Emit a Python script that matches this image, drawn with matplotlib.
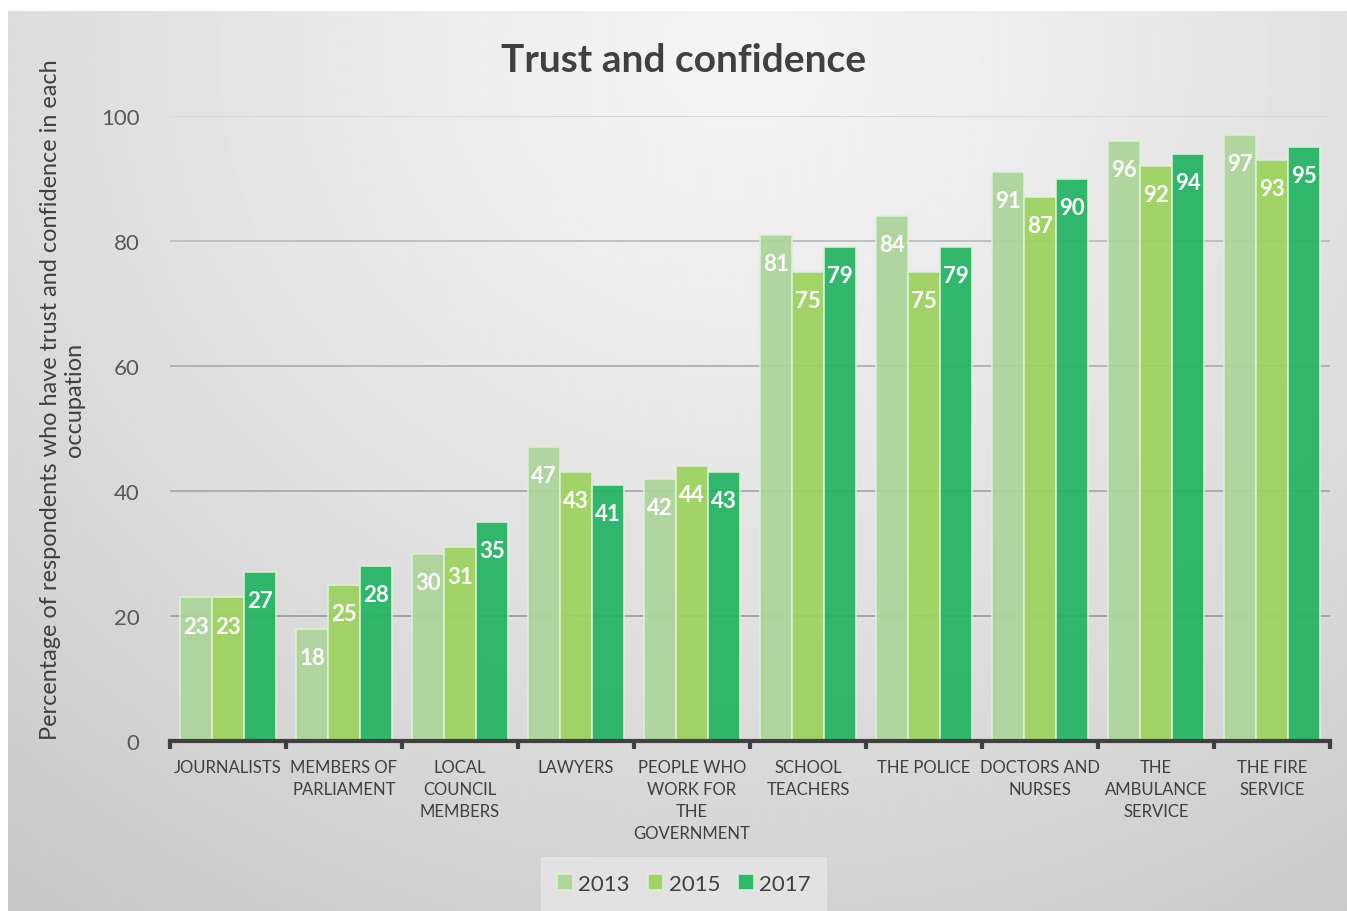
import numpy as np
import matplotlib.pyplot as plt

plt.rcParams['font.family'] = ['Lato', 'DejaVu Sans']

categories = ['JOURNALISTS', 'MEMBERS OF\nPARLIAMENT', 'LOCAL\nCOUNCIL\nMEMBERS', 'LAWYERS',
              'PEOPLE WHO\nWORK FOR\nTHE\nGOVERNMENT', 'SCHOOL\nTEACHERS', 'THE POLICE',
              'DOCTORS AND\nNURSES', 'THE\nAMBULANCE\nSERVICE', 'THE FIRE\nSERVICE']
years = ['2013', '2015', '2017']
vals_2013 = [23, 18, 30, 47, 42, 81, 84, 91, 96, 97]
vals_2015 = [23, 25, 31, 43, 44, 75, 75, 87, 92, 93]
vals_2017 = [27, 28, 35, 41, 43, 79, 79, 90, 94, 95]
colors = ['#add49a', '#9dd25e', '#22b463']

W, H = 1347, 912
fig = plt.figure(figsize=(W / 100, H / 100), dpi=100)
fig.patch.set_facecolor('white')

# gradient background panel
bg = fig.add_axes([8 / W, 0, 1 - 8 / W, 1 - 12 / H])
yy, xx = np.mgrid[0:1:300j, 0:1:450j]
d = np.sqrt(((xx - 0.55) / 0.75) ** 2 + ((yy - 0.05) / 1.0) ** 2)
g = np.clip(0.955 - 0.14 * d ** 1.3, 0.76, 0.955)
bg.imshow(g, cmap='gray', vmin=0, vmax=1, aspect='auto', extent=[0, 1, 1, 0])
bg.axis('off')

ax = fig.add_axes([170 / W, 1 - 742 / H, 1160 / W, 625 / H])
ax.patch.set_alpha(0)
x = np.arange(len(categories))
bw = 0.276
for yv, c in zip([20, 40, 60, 80, 100], ['#a0a0a0', '#a8a8a8', '#b0b0b0', '#bdbdbd', '#d8d8d8']):
    ax.axhline(yv, color=c, lw=1.3, zorder=0)

series = [vals_2013, vals_2015, vals_2017]
for i, (vals, c, yr) in enumerate(zip(series, colors, years)):
    pos = x + (i - 1) * bw
    ax.bar(pos, vals, bw, color=c, edgecolor='#dff0d8', linewidth=1.2, alpha=0.93,
           label=yr, zorder=2)
    for px, v in zip(pos, vals):
        ax.text(px, v - 4.6, str(v), ha='center', va='center', color='white',
                fontsize=16, fontweight='bold', zorder=3)

ax.set_xlim(-0.5, len(categories) - 0.5)
ax.set_ylim(0, 100)
ax.set_yticks([0, 20, 40, 60, 80, 100])
ax.tick_params(axis='y', length=0, labelsize=16, labelcolor='#595959', pad=22)
ax.set_xticks(np.arange(len(categories) + 1) - 0.5, minor=False)
ax.set_xticklabels([])
ax.tick_params(axis='x', direction='out', length=6, width=3, color='#404040')
for xi, lab in zip(x, categories):
    ax.text(xi, -2.9, lab, ha='center', va='top', fontsize=12, color='#404040',
            linespacing=1.45)
for s in ['top', 'right', 'left']:
    ax.spines[s].set_visible(False)
ax.spines['bottom'].set_color('#404040')
ax.spines['bottom'].set_linewidth(3)

ax.set_ylabel('Percentage of respondents who have trust and confidence in each\noccupation',
              fontsize=16.9, color='#404040')
ax.yaxis.set_label_coords(-0.073, 0.547)

fig.text(684 / W, 1 - 60 / H, 'Trust and confidence', ha='center', va='center',
         fontsize=28, fontweight='bold', color='#404040')

leg = fig.legend(loc='center', bbox_to_anchor=(684 / W, 1 - 885 / H), ncol=3,
                 fontsize=16, frameon=True, handlelength=0.7, handleheight=0.7,
                 handletextpad=0.25, columnspacing=0.8, borderpad=0.45)
leg.get_frame().set_facecolor('#e2e2e2')
leg.get_frame().set_edgecolor('none')
leg.get_frame().set_alpha(1)
leg.get_frame().set_boxstyle('square')
for t in leg.get_texts():
    t.set_color('#404040')

fig.savefig('out.png', dpi=100)
